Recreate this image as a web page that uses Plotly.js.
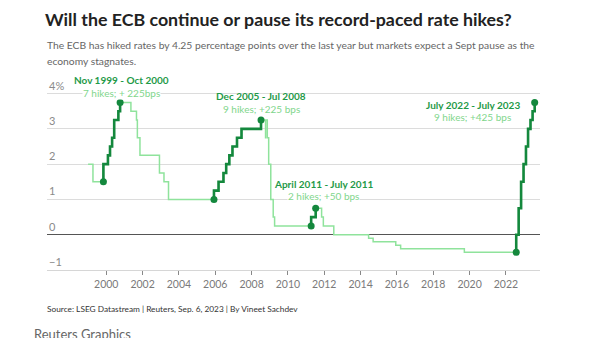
<!DOCTYPE html>
<html>
<head>
<meta charset="utf-8">
<script src="https://cdn.plot.ly/plotly-3.0.1.min.js"></script>
<style>
  html, body { margin: 0; padding: 0; background: #fff; }
  #chart { width: 600px; height: 338px; }
</style>
</head>
<body>
<div id="chart"></div>
<script>
// ECB deposit facility rate (%), change dates
const rateDates = [
  '1999-01-01','1999-04-09','1999-11-05','2000-02-04','2000-03-17','2000-04-28','2000-06-09','2000-09-01','2000-10-06',
  '2001-05-11','2001-08-31','2001-09-18','2001-11-09','2002-12-06','2003-03-07','2003-06-06',
  '2005-12-06','2006-03-08','2006-06-15','2006-08-09','2006-10-11','2006-12-13','2007-03-14','2007-06-13','2008-07-09',
  '2008-10-08','2008-10-09','2008-11-12','2008-12-10','2009-01-21','2009-03-11','2009-04-08',
  '2011-04-13','2011-07-13','2011-11-09','2011-12-14','2012-07-11',
  '2014-06-11','2014-09-10','2015-12-09','2016-03-16','2019-09-18',
  '2022-07-27','2022-09-14','2022-11-02','2022-12-21','2023-02-08','2023-03-22','2023-05-10','2023-06-21','2023-08-02'
];
const rateValues = [
  2.00,1.50,2.00,2.25,2.50,2.75,3.25,3.50,3.75,
  3.50,3.25,2.75,2.25,1.75,1.50,1.00,
  1.25,1.50,1.75,2.00,2.25,2.50,2.75,3.00,3.25,
  2.75,3.25,2.75,2.00,1.00,0.50,0.25,
  0.50,0.75,0.50,0.25,0.00,
  -0.10,-0.20,-0.30,-0.40,-0.50,
  0.00,0.75,1.50,2.00,2.50,3.00,3.25,3.50,3.75
];
// hiking cycles
const cycleStart = ['1999-11-05','2005-12-06','2011-04-13','2022-07-27'];
const cycleEnd   = ['2000-10-06','2008-07-09','2011-07-13','2023-08-02'];
const cycleTitle = ['Nov 1999 - Oct 2000','Dec 2005 - Jul 2008','April 2011 - July 2011','July 2022 - July 2023'];
const cycleNote  = ['7 hikes; + 225bps','9 hikes; +225 bps','2 hikes; +50 bps','9 hikes; +425 bps'];
// axis ticks
const xTickVals = ['2000','2002','2004','2006','2008','2010','2012','2014','2016','2018','2020','2022'];
const yTickVals = [-1,0,1,2,3,4];
const yTickText = ['\u22121','0','1','2','3','4%'];

const LIGHT = '#8fe39c';
const DARK = '#14883d';
const FONT = 'Lato, "Open Sans", sans-serif';

// plot area in pixels (for placing page texts)
const PL = 47, PR = 540, PT = 83, PB = 270;
const px = v => (v - PL) / (PR - PL);
const py = v => (PB - v) / (PB - PT);

const traces = [{
  x: rateDates, y: rateValues, type: 'scatter', mode: 'lines',
  line: {shape: 'hv', color: LIGHT, width: 1.5}, hoverinfo: 'skip', showlegend: false
}];

// label placement for each cycle (pixels)
const labelPos = [
  {x: 121, y1: 80.5, y2: 93.2},
  {x: 261, y1: 96.2, y2: 108.8},
  {x: 323.5, y1: 183.8, y2: 196.2},
  {x: 472.5, y1: 104.5, y2: 116.5}
];

const annotations = [];
cycleStart.forEach((s, k) => {
  const e = cycleEnd[k];
  const i0 = rateDates.indexOf(s);
  const i1 = rateDates.indexOf(e);
  const xs = [s].concat(rateDates.slice(i0, i1 + 1));
  const ys = [rateValues[i0 - 1]].concat(rateValues.slice(i0, i1 + 1));
  traces.push({
    x: xs, y: ys, type: 'scatter', mode: 'lines',
    line: {shape: 'hv', color: DARK, width: 2.6}, hoverinfo: 'skip', showlegend: false
  });
  traces.push({
    x: [s, e], y: [rateValues[i0 - 1], rateValues[i1]], type: 'scatter', mode: 'markers',
    marker: {color: DARK, size: 7}, hoverinfo: 'skip', showlegend: false
  });
  const p = labelPos[k];
  annotations.push({
    x: px(p.x), y: py(p.y1), xref: 'paper', yref: 'paper', text: '<b>' + cycleTitle[k] + '</b>',
    showarrow: false, xanchor: 'center', yanchor: 'middle', borderpad: 0,
    font: {family: FONT, size: 10, color: '#1f9a48'}
  });
  annotations.push({
    x: px(p.x), y: py(p.y2), xref: 'paper', yref: 'paper', text: cycleNote[k],
    showarrow: false, xanchor: 'center', yanchor: 'middle',
    font: {family: FONT, size: 10, color: '#7fd68c'}, bgcolor: '#ffffff', borderpad: 0
  });
});

// y tick labels sitting above gridlines, inside the plot
yTickVals.forEach((v, i) => {
  annotations.push({
    x: 0, xref: 'paper', y: v, yref: 'y', text: yTickText[i], showarrow: false,
    xanchor: 'left', yanchor: 'bottom',
    font: {family: FONT, size: 11, color: '#8a8a8a'}
  });
});

// subtitle and footer
annotations.push(
  {x: px(45), xref: 'paper', y: py(45), yref: 'paper', xanchor: 'left', yanchor: 'middle',
   showarrow: false, align: 'left',
   text: 'The ECB has hiked rates by 4.25 percentage points over the last year but markets expect a Sept pause as the',
   font: {family: FONT, size: 10.3, color: '#666'}},
  {x: px(45), xref: 'paper', y: py(61), yref: 'paper', xanchor: 'left', yanchor: 'middle',
   showarrow: false, align: 'left', text: 'economy stagnates.',
   font: {family: FONT, size: 10.3, color: '#666'}},
  {x: px(45), xref: 'paper', y: py(309), yref: 'paper', xanchor: 'left', yanchor: 'middle',
   showarrow: false, text: 'Source: LSEG Datastream | Reuters, Sep. 6, 2023 | By Vineet Sachdev',
   font: {family: FONT, size: 8.3, color: '#333'}},
  {x: px(32), xref: 'paper', y: py(334), yref: 'paper', xanchor: 'left', yanchor: 'middle',
   showarrow: false, text: 'Reuters Graphics',
   font: {family: FONT, size: 13, color: '#666'}}
);

const layout = {
  width: 600, height: 338,
  margin: {l: PL, r: 600 - PR, t: PT, b: 338 - PB},
  paper_bgcolor: '#ffffff', plot_bgcolor: '#ffffff',
  font: {family: FONT, color: '#333'},
  title: {
    text: '<b>Will the ECB continue or pause its record-paced rate hikes?</b>',
    x: 45 / 600, xanchor: 'left', y: 1 - 20 / 338, yanchor: 'middle',
    font: {family: FONT, size: 17.8, color: '#222'}
  },
  xaxis: {
    type: 'date', range: ['1996-09-27', '2023-11-17'],
    tickvals: xTickVals.map(y => y + '-01-01'), ticktext: xTickVals,
    showgrid: false, zeroline: false,
    showline: true, linecolor: '#d6d6d6', linewidth: 1,
    ticks: 'outside', ticklen: 4, tickcolor: '#888', tickwidth: 1,
    tickfont: {family: FONT, size: 10.5, color: '#7a7a7a'}, fixedrange: true
  },
  yaxis: {
    range: [-1, 4.3], tickvals: yTickVals, showticklabels: false,
    showgrid: true, gridcolor: '#dcdcdc', gridwidth: 1,
    zeroline: true, zerolinecolor: '#555', zerolinewidth: 1,
    showline: false, ticks: '', fixedrange: true
  },
  annotations: annotations
};

Plotly.newPlot('chart', traces, layout, {displayModeBar: false, staticPlot: true});
</script>
</body>
</html>
